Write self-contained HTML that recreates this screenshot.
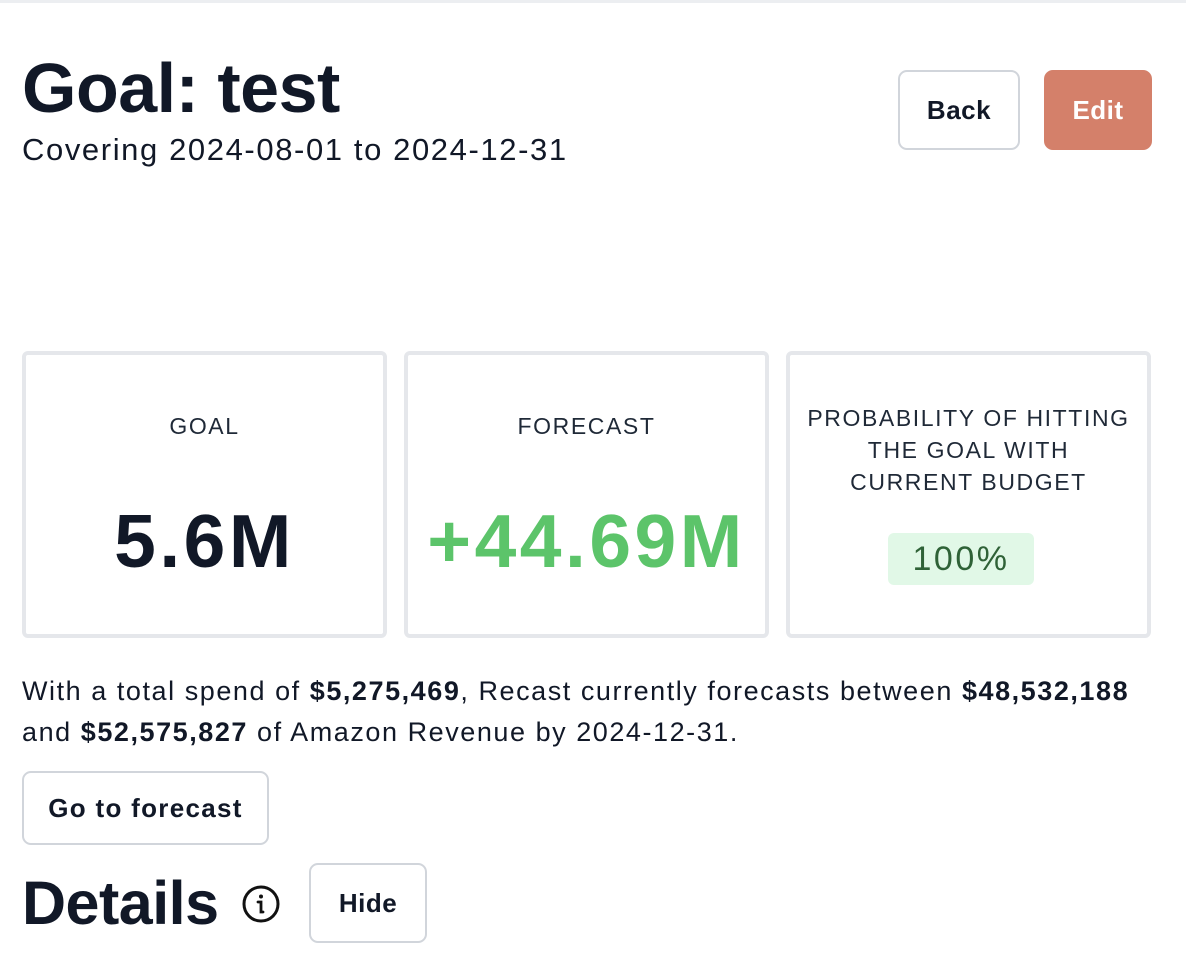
<!DOCTYPE html>
<html><head><meta charset="utf-8"><style>
*{box-sizing:border-box;margin:0;padding:0}
body{width:1186px;height:954px;background:#fff;font-family:"Liberation Sans",sans-serif;color:#111827;position:relative;overflow:hidden}
.abs{position:absolute}
.btn{position:absolute;border:2px solid #d1d5db;border-radius:9px;background:#fff;font-weight:bold;font-size:26px;display:flex;align-items:center;justify-content:center;color:#111827;letter-spacing:0.5px}
.card{position:absolute;top:351px;width:365px;height:287px;border:4px solid #e5e7eb;border-radius:6px;text-align:center}
.lbl{position:absolute;left:0;right:0;font-size:23px;letter-spacing:1.6px;line-height:32px;color:#1f2937}
.val{position:absolute;left:0;right:0;top:146px;font-size:75px;font-weight:bold;line-height:80px;letter-spacing:3.5px}
</style></head><body>
<div class="abs" style="left:0;top:0;width:1186px;height:3px;background:#eceef1"></div>
<div class="abs" style="left:22px;top:48px;font-size:70px;font-weight:bold;letter-spacing:-0.5px;line-height:80px">Goal: test</div>
<div class="abs" style="left:22px;top:132px;font-size:31px;letter-spacing:1.6px;line-height:36px">Covering 2024-08-01 to 2024-12-31</div>
<div class="btn" style="left:898px;top:70px;width:122px;height:80px">Back</div>
<div class="btn" style="left:1044px;top:70px;width:108px;height:80px;background:#d4806a;border-color:#d4806a;color:#fff">Edit</div>
<div class="card" style="left:22px">
<div class="lbl" style="top:55px">GOAL</div>
<div class="val">5.6M</div></div>
<div class="card" style="left:404px">
<div class="lbl" style="top:55px">FORECAST</div>
<div class="val" style="color:#5cc46a">+44.69M</div></div>
<div class="card" style="left:786px">
<div class="lbl" style="top:47px">PROBABILITY OF HITTING<br>THE GOAL WITH<br>CURRENT BUDGET</div>
<div class="abs" style="left:98px;top:178px;width:146px;height:52px;background:#e1f8e7;border-radius:6px;color:#2f6237;font-size:34px;line-height:52px;letter-spacing:2.5px">100%</div></div>
<div class="abs" style="left:22px;top:671px;font-size:27px;letter-spacing:1.55px;line-height:41px;width:1164px;white-space:nowrap">With a total spend of <b>$5,275,469</b>, Recast currently forecasts between <b>$48,532,188</b><br>and <b>$52,575,827</b> of Amazon Revenue by 2024-12-31.</div>
<div class="btn" style="left:22px;top:771px;width:247px;height:74px;letter-spacing:1.3px">Go to forecast</div>
<div class="abs" style="left:22px;top:868px;font-size:61px;font-weight:bold;letter-spacing:-0.5px;line-height:70px">Details</div>
<svg class="abs" style="left:241px;top:884px" width="40" height="40" viewBox="0 0 40 40"><circle cx="20" cy="20" r="17" fill="none" stroke="#111" stroke-width="3"/><circle cx="20" cy="12.5" r="2" fill="#111"/><path d="M17 18h3v10h2" fill="none" stroke="#111" stroke-width="2.8" stroke-linecap="round"/></svg>
<div class="btn" style="left:309px;top:863px;width:118px;height:80px">Hide</div>
</body></html>
